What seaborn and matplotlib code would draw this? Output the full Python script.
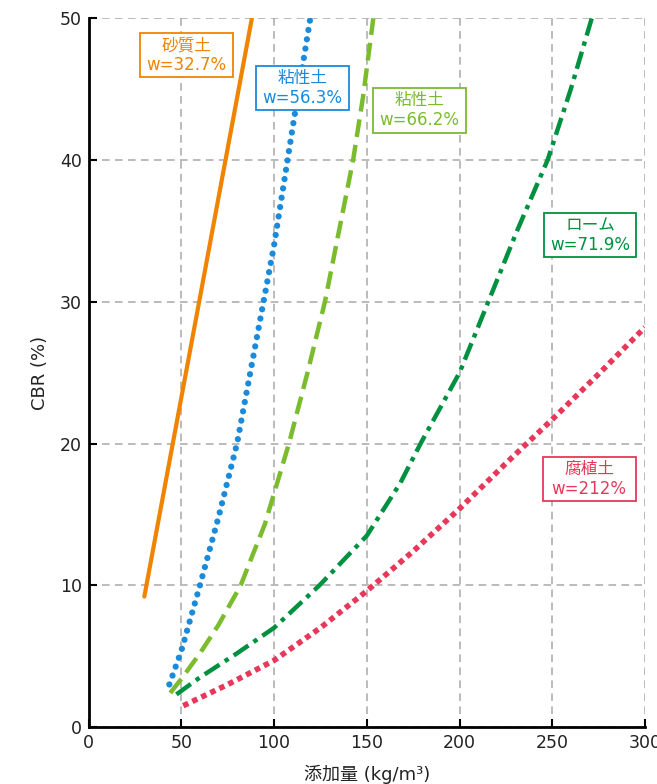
import numpy as np
import pandas as pd
import matplotlib
matplotlib.use("Agg")
import matplotlib.pyplot as plt
from matplotlib.patches import Rectangle
from matplotlib.ticker import MultipleLocator
import seaborn as sns

# --- data (x: 添加量 kg/m3, y: CBR %) ---
sand_x = [30, 88]
sand_y = [9.2, 50]

clay1_x = [43.5, 50, 60, 70, 80, 90, 100, 110, 119.5]
clay1_y = [3.0, 5.4, 10.0, 14.8, 20.0, 27.0, 34.0, 42.3, 50.0]

clay2_x = [44, 50, 60, 70, 82, 88, 95, 108, 118, 127.4, 135, 142.6, 148, 153.5]
clay2_y = [2.4, 3.4, 5.2, 7.2, 10.0, 12.0, 14.3, 20.0, 25.0, 30.0, 35.0, 40.0, 44.5, 50.0]

loam_x = [47.3, 60, 80, 100, 124.5, 150, 168, 179, 200, 215.5, 231, 247.5, 260, 271.3]
loam_y = [2.3, 3.5, 5.2, 7.0, 10.0, 13.5, 17.2, 20.0, 25.0, 30.0, 35.0, 40.0, 45.0, 50.0]

humus_x = [51, 75, 100, 125, 150, 175, 200, 225, 250, 275, 300]
humus_y = [1.5, 3.0, 4.7, 7.0, 9.6, 12.4, 15.4, 18.6, 21.7, 24.9, 28.2]

names = ["砂質土\nw=32.7%", "粘性土\nw=56.3%", "粘性土\nw=66.2%", "ローム\nw=71.9%", "腐植土\nw=212%"]
colors = ["#F08300", "#1A8ADB", "#7BBB2E", "#009140", "#E8385A"]
label_pos = [(52.8, 47.4), (115.2, 45.1), (178.3, 43.5), (270.4, 34.7), (269.9, 17.5)]

sns.set_theme(style="white")
plt.rcParams['font.family'] = ['DejaVu Sans', 'Noto Sans CJK JP']

fig = plt.figure(figsize=(6.57, 7.84), dpi=100)
ax = fig.add_axes([0.135, 0.0727, 0.8467, 0.904])

series = [(sand_x, sand_y), (clay1_x, clay1_y), (clay2_x, clay2_y), (loam_x, loam_y), (humus_x, humus_y)]
styles = [
    dict(linestyle="-", linewidth=3.0),
    dict(linestyle=(0, (0.01, 1.5)), linewidth=4.5, dash_capstyle="round"),
    dict(linestyle=(0, (4.0, 1.8)), linewidth=3.2, dash_capstyle="butt"),
    dict(linestyle=(0, (4.0, 1.4, 1.0, 1.4)), linewidth=3.2, dash_capstyle="butt"),
    dict(linestyle=(0, (1.0, 0.8)), linewidth=4.0, dash_capstyle="butt"),
]
for (xs, ys), c, st in zip(series, colors, styles):
    df = pd.DataFrame({"x": xs, "y": ys})
    sns.lineplot(data=df, x="x", y="y", ax=ax, color=c, estimator=None, sort=False, zorder=3, **st)

# label boxes
for (lx, ly), txt, c in zip(label_pos, names, colors):
    ax.add_patch(Rectangle((lx - 25, ly - 1.56), 50, 3.12, facecolor="white",
                           edgecolor=c, linewidth=1.3, zorder=5))
    ax.text(lx, ly, txt, ha="center", va="center", color=c, fontsize=12,
            linespacing=1.15, zorder=6)

ax.set_xlim(0, 300)
ax.set_ylim(0, 50)
ax.xaxis.set_major_locator(MultipleLocator(50))
ax.xaxis.set_minor_locator(MultipleLocator(10))
ax.yaxis.set_major_locator(MultipleLocator(10))

ax.grid(True, which="major", color="#a8a8a8", linestyle=(0, (5, 3.5)), linewidth=1.1)
ax.set_axisbelow(True)

for s in ["top", "right"]:
    ax.spines[s].set_visible(False)
for s in ["left", "bottom"]:
    ax.spines[s].set_color("black")
    ax.spines[s].set_linewidth(2.0)
    ax.spines[s].set_zorder(7)

ax.tick_params(which="both", direction="in", length=6, width=1.5, color="black",
               labelsize=12.5, labelcolor="#222222", pad=5)
ax.tick_params(axis="x", which="minor", length=6)
ax.tick_params(left=True, bottom=True)

ax.set_xlabel("添加量 (kg/m³)", fontsize=13, color="#222222", labelpad=9)
ax.set_ylabel("CBR (%)", fontsize=13, color="#222222", labelpad=8)

fig.savefig("out.png", dpi=100)
